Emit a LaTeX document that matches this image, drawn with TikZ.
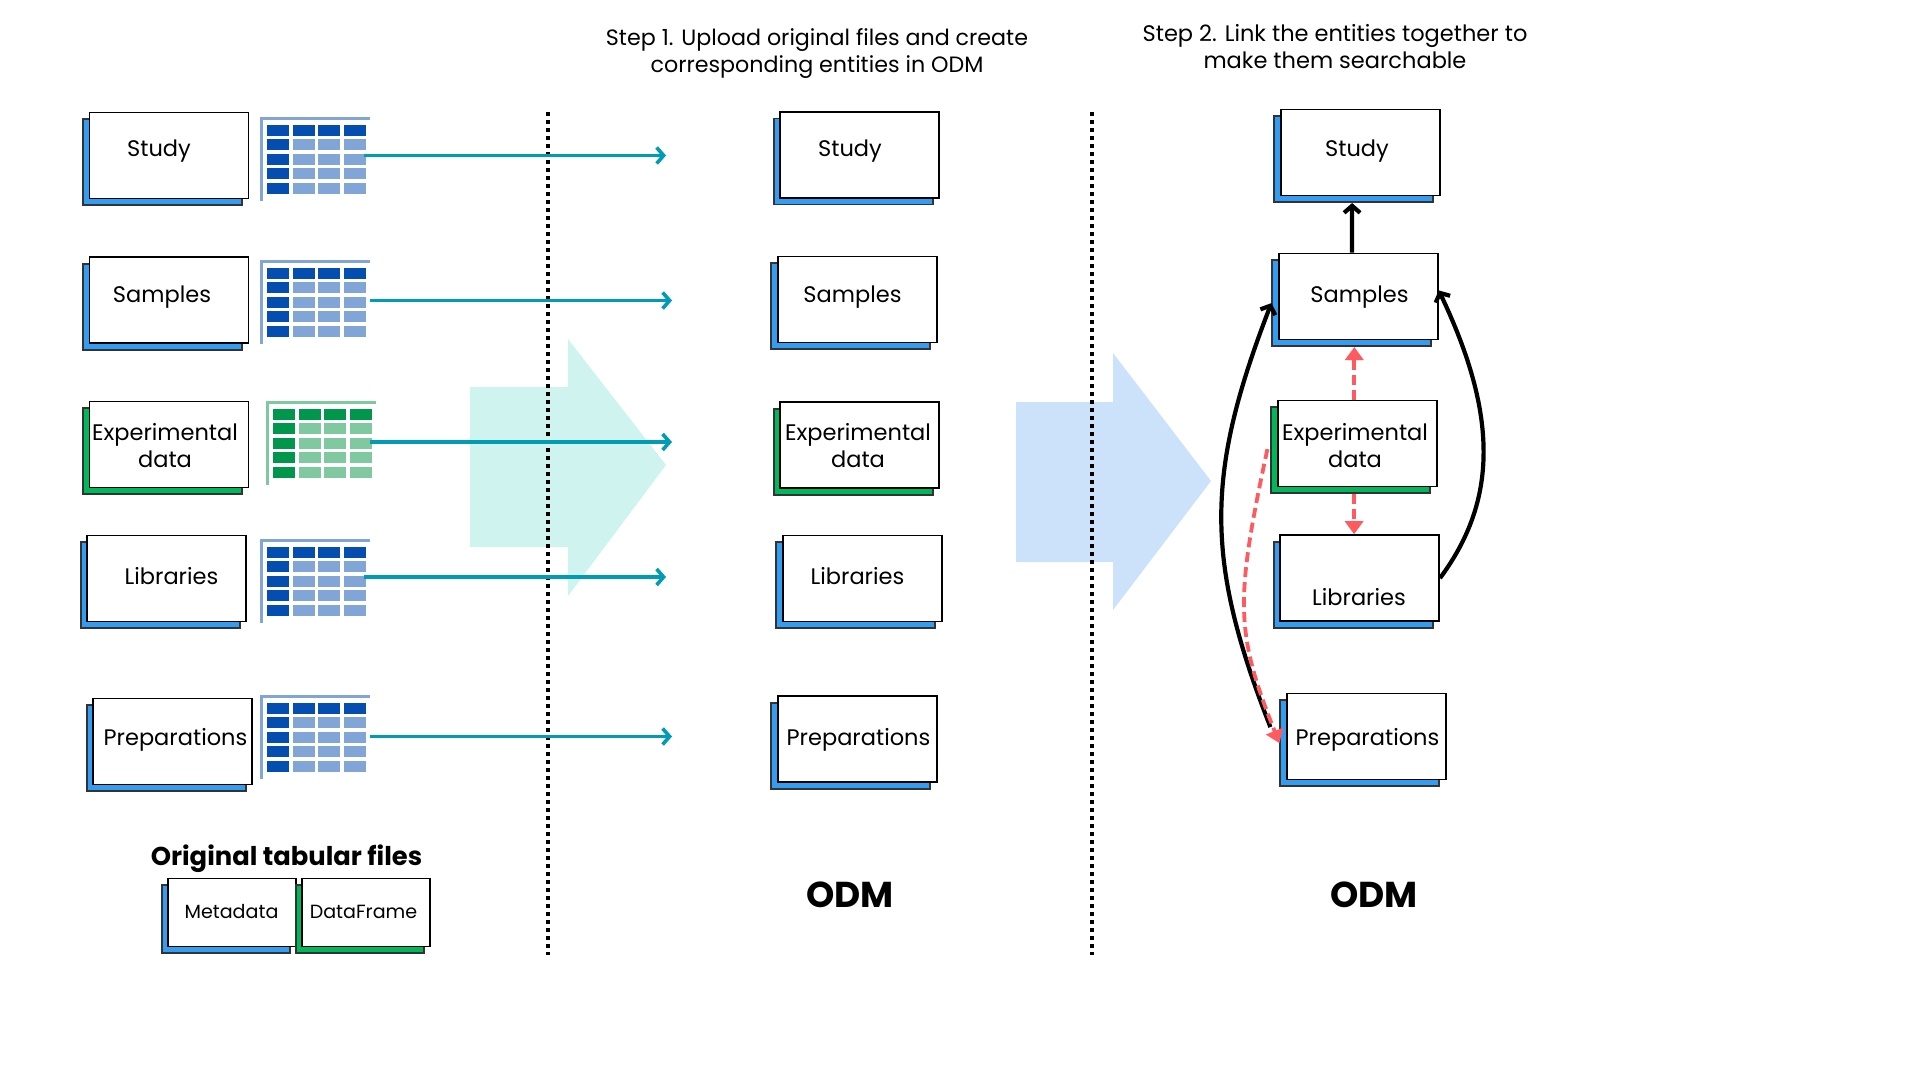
\documentclass[tikz,border=0pt]{standalone}
\usepackage{fontspec}
\setmainfont{Poppins}
\usepackage{xcolor}
\usepackage{tikz}
\usetikzlibrary{arrows.meta,calc,positioning}
\definecolor{entblue}{HTML}{339DF2}
\definecolor{entgreen}{HTML}{00B85C}
\definecolor{cellblue}{HTML}{034EB0}
\definecolor{cellbluelight}{HTML}{82A5D8}
\definecolor{cellgreen}{HTML}{00964B}
\definecolor{cellgreenlight}{HTML}{80C8A0}
\definecolor{flowteal}{HTML}{009CB5}
\definecolor{linkred}{HTML}{FF5A5F}
\definecolor{bigteal}{HTML}{CFF4F0}
\definecolor{bigblue}{HTML}{CCE1FA}
\tikzset{
	bigbox/.style={minimum width=159pt,minimum height=86pt},
	smallbox/.style={minimum width=128pt,minimum height=68pt},
	frontbox/.style={draw=black,fill=white,line width=1.8pt,inner sep=0pt,anchor=north west},
	backbox/.style={draw=black!80,line width=1.8pt,inner sep=0pt,anchor=north west},
	enttext/.style={align=center,inner sep=0pt,font=\fontsize{22.5}{27}\selectfont},
	smalltext/.style={inner sep=0pt,font=\fontsize{19.1}{22}\selectfont},
	stepone/.style={align=center,inner sep=0pt,font=\fontsize{22.2}{27}\selectfont},
	steptwo/.style={align=center,inner sep=0pt,font=\fontsize{22.5}{27}\selectfont},
	headtext/.style={inner sep=0pt,font=\fontsize{25.8}{30}\selectfont\bfseries},
	odmtext/.style={inner sep=0pt,font=\fontsize{36}{42}\selectfont\bfseries},
	divider/.style={line width=4pt,dash pattern=on 4pt off 4pt},
	flow/.style={-{Straight Barb[length=7pt,width=16pt,line width=3.6pt]},color=flowteal,line width=3.8pt},
	link/.style={-{Straight Barb[length=7pt,width=16pt,line width=4.2pt]},color=black,line width=4.2pt},
	reflink/.style={-{Triangle[length=13pt,width=18pt]},color=linkred,line width=3.8pt,dash pattern=on 10pt off 5pt},
}
% name, left, top, colour, size, text style, text, text x, text y
\newcommand{\plotEntity}[9]
{
	\node[backbox,#5,fill=#4] (#1-b) at ({#2-7.3},{#3+6.2}) {};
	\node[frontbox,#5] (#1) at ({#2-0.8},{#3-0.5}) {};
	\node[#6] (#1-t) at (#8,#9) {#7};
}
% left, top, dark, light
\newcommand{\plotTable}[4]
{
	\begin{scope}[shift={(#1,#2)}]
		\draw[color=#4,line width=3.4pt] (108,0) -- (0,0) -- (0,82);
		\foreach \row in {0,...,4}{
			\foreach \col in {0,...,3}{
				\ifnum\row=0 \def\cellcol{#3}\else\ifnum\col=0 \def\cellcol{#3}\else\def\cellcol{#4}\fi\fi
				\fill[color=\cellcol] ({5.5+25.6*\col},{6+14.6*\row}) rectangle ++(22,11);
			}
		}
	\end{scope}
}
\begin{document}
\begin{tikzpicture}[x=1pt,y=-1pt]
\useasboundingbox (0,0) rectangle (1920,1080);

\fill[bigteal] (470,387) -- (568,387) -- (568,339) -- (666,465) -- (568,596) -- (568,547) -- (470,547) -- cycle;
\fill[bigblue] (1016,402) -- (1113,402) -- (1113,353) -- (1211,481) -- (1113,610) -- (1113,562) -- (1016,562) -- cycle;

\coordinate (div1-a) at (548,112);
\coordinate (div1-b) at (548,955);
\coordinate (div2-a) at (1092,112);
\coordinate (div2-b) at (1092,955);
\draw[divider] (div1-a) -- (div1-b);
\draw[divider] (div2-a) -- (div2-b);

% source files
\plotEntity{studyL}{89.4}{112}{entblue}{bigbox}{enttext}{Study}{159}{151}
\plotEntity{samplesL}{89.4}{256.7}{entblue}{bigbox}{enttext}{Samples}{162}{297}
\plotEntity{expL}{89.4}{401}{entgreen}{bigbox}{enttext}{Experimental\\data}{165}{446}
\plotEntity{libL}{87}{535}{entblue}{bigbox}{enttext}{Libraries}{171.5}{576}
\plotEntity{prepL}{93}{698}{entblue}{bigbox}{enttext}{Preparations}{175.5}{740}

\plotTable{261.5}{118.5}{cellblue}{cellbluelight}
\plotTable{261.5}{261.5}{cellblue}{cellbluelight}
\plotTable{267.5}{402.5}{cellgreen}{cellgreenlight}
\plotTable{261.5}{540.5}{cellblue}{cellbluelight}
\plotTable{261.5}{696.5}{cellblue}{cellbluelight}

\foreach \name/\xa/\xb/\yy in {study/363.6/666/155.5,samples/370/672/300.5,exp/370/672/442,lib/363.6/666/577,prep/370/672/736.5}{
	\coordinate (\name-from) at (\xa,\yy);
	\coordinate (\name-to) at (\xb,\yy);
	\draw[flow] (\name-from) -- (\name-to);
}

\node[headtext] (headL) at (286.5,859) {Original tabular files};
\plotEntity{metaL}{168}{878}{entblue}{smallbox}{smalltext}{Metadata}{231.5}{912}
\plotEntity{frameL}{302}{878}{entgreen}{smallbox}{smalltext}{DataFrame}{363.5}{912}

% step 1
\node[stepone] (step1) at (817,53.5) {Step 1. Upload original files and create\\corresponding entities in ODM};
\plotEntity{studyM}{780}{111.4}{entblue}{bigbox}{enttext}{Study}{850}{151}
\plotEntity{samplesM}{777.5}{256}{entblue}{bigbox}{enttext}{Samples}{852.5}{297}
\plotEntity{expM}{780}{401.6}{entgreen}{bigbox}{enttext}{Experimental\\data}{858}{446}
\plotEntity{libM}{782.5}{535}{entblue}{bigbox}{enttext}{Libraries}{857.5}{576}
\plotEntity{prepM}{777.5}{695.5}{entblue}{bigbox}{enttext}{Preparations}{858.5}{740}
\node[odmtext] (odmM) at (850,895) {ODM};

% step 2
\node[steptwo] (step2) at (1335,46.5) {Step 2. Link the entities together to\\make them searchable};
\plotEntity{studyR}{1280.7}{109}{entblue}{bigbox}{enttext}{Study}{1357}{151}
\plotEntity{samplesR}{1278.7}{253}{entblue}{bigbox}{enttext}{Samples}{1359.5}{297}
\plotEntity{expR}{1277.7}{400}{entgreen}{bigbox}{enttext}{Experimental\\data}{1355}{446}
\plotEntity{libR}{1280}{534.7}{entblue}{bigbox}{enttext}{Libraries}{1359}{597.5}
\plotEntity{prepR}{1286.7}{693}{entblue}{bigbox}{enttext}{Preparations}{1367.5}{740}
\node[odmtext] (odmR) at (1374,895) {ODM};

\draw[link] ([xshift=-6.3pt]samplesR.north) -- ([xshift=-1.7pt]studyR-b.south);
\draw[link] ([shift={(-9,-16)}]prepR-b.west) .. controls (1205,560) and (1205,475) .. (samplesR-b.west);
\draw[link] (libR.east) .. controls (1498,500) and (1498,415) .. ([yshift=6pt]samplesR.east);
\draw[reflink] ([xshift=-3pt]expR.north) -- ([xshift=2.5pt]samplesR-b.south);
\draw[reflink] ([xshift=3.3pt]expR-b.south) -- ([xshift=-5.5pt]libR.north);
\draw[reflink] ([shift={(-3,-1)}]expR-b.west) .. controls (1235,600) and (1235,632) .. (prepR-b.west);
\end{tikzpicture}
\end{document}
